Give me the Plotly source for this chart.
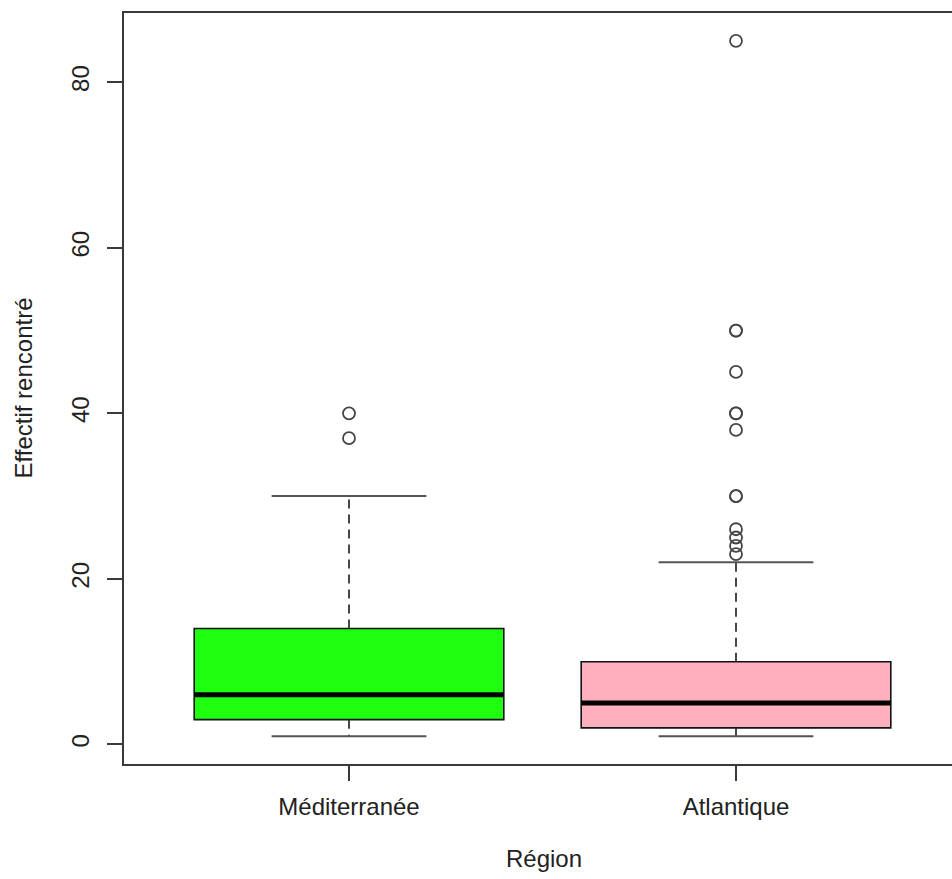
import plotly.graph_objects as go

# Summary statistics per region
categories = ["Méditerranée", "Atlantique"]
whisker_low = [1, 1]
q1 = [3, 2]
median = [6, 5]
q3 = [14, 10]
whisker_high = [30, 22]
outliers_med = [37, 40]
outliers_atl = [23, 24, 25, 26, 30, 30, 38, 40, 40, 45, 50, 50, 85]
outliers = [outliers_med, outliers_atl]
box_colors = ["#1FFF10", "#FFAFBD"]

BOX_HALF = 0.4
CAP_HALF = 0.2
FONT = "Liberation Sans, Arial, Helvetica, sans-serif"
FSIZE = 24
LINE_COL = "#3a3a3a"

fig = go.Figure()

for i, cat in enumerate(categories):
    pos = i + 1
    # dashed whiskers
    fig.add_trace(go.Scatter(
        x=[pos, pos, None, pos, pos],
        y=[q3[i], whisker_high[i], None, q1[i], whisker_low[i]],
        mode="lines", line=dict(color="#333333", width=1.8, dash="9px,6px"),
        hoverinfo="skip", showlegend=False))
    # whisker caps
    fig.add_trace(go.Scatter(
        x=[pos - CAP_HALF, pos + CAP_HALF, None, pos - CAP_HALF, pos + CAP_HALF],
        y=[whisker_high[i], whisker_high[i], None, whisker_low[i], whisker_low[i]],
        mode="lines", line=dict(color="#555555", width=2),
        hoverinfo="skip", showlegend=False))

# boxes from Q1 to Q3
fig.add_trace(go.Bar(
    x=[1, 2], y=[b - a for a, b in zip(q1, q3)], base=q1, width=2 * BOX_HALF,
    marker=dict(color=box_colors, line=dict(color="#111111", width=1.6)),
    hoverinfo="skip", showlegend=False))

for i, cat in enumerate(categories):
    pos = i + 1
    # median line
    fig.add_trace(go.Scatter(
        x=[pos - BOX_HALF, pos + BOX_HALF], y=[median[i], median[i]],
        mode="lines", line=dict(color="black", width=5),
        hoverinfo="skip", showlegend=False))
    # outliers
    fig.add_trace(go.Scatter(
        x=[pos] * len(outliers[i]), y=outliers[i], mode="markers",
        marker=dict(symbol="circle-open", size=12, color="#444444",
                    line=dict(width=1.8, color="#444444")),
        hoverinfo="skip", showlegend=False))

# x scale: 387 px per category unit, plot area starts at x=124
x_left = 0.4186
x_right = x_left + (952 - 124) / 387.0

fig.update_layout(
    width=952, height=879,
    margin=dict(l=124, r=0, t=13, b=115),
    paper_bgcolor="white", plot_bgcolor="white",
    font=dict(family=FONT, size=FSIZE, color="#222222"),
    showlegend=False,
    barmode="overlay",
    xaxis=dict(
        range=[x_left, x_right], tickvals=[1, 2], ticktext=categories,
        showgrid=False, zeroline=False,
        showline=True, mirror=True, linecolor=LINE_COL, linewidth=2,
        ticks="outside", ticklen=15, tickwidth=1.6, tickcolor=LINE_COL,
        tickfont=dict(size=FSIZE, family=FONT, color="#222222"),
        ticklabelstandoff=5,
    ),
    yaxis=dict(
        range=[-2.36, 88.36], tickvals=[0, 20, 40, 60, 80],
        showgrid=False, zeroline=False,
        showline=True, linecolor=LINE_COL, linewidth=2,
        ticks="outside", ticklen=15, tickwidth=1.6, tickcolor=LINE_COL,
        tickangle=-90,
        tickfont=dict(size=FSIZE, family=FONT, color="#222222"),
        ticklabelstandoff=8,
    ),
    annotations=[
        dict(text="Effectif rencontré", textangle=-90, showarrow=False,
             xref="paper", yref="paper", x=(23 - 124) / 828.0, y=0.5,
             xanchor="center", yanchor="middle",
             font=dict(size=FSIZE, family=FONT, color="#222222")),
        dict(text="Région", showarrow=False,
             xref="paper", yref="paper", x=(544 - 124) / 828.0,
             y=-(858 - 764) / 751.0,
             xanchor="center", yanchor="middle",
             font=dict(size=FSIZE, family=FONT, color="#222222")),
    ],
)

fig.write_html("out.html")
